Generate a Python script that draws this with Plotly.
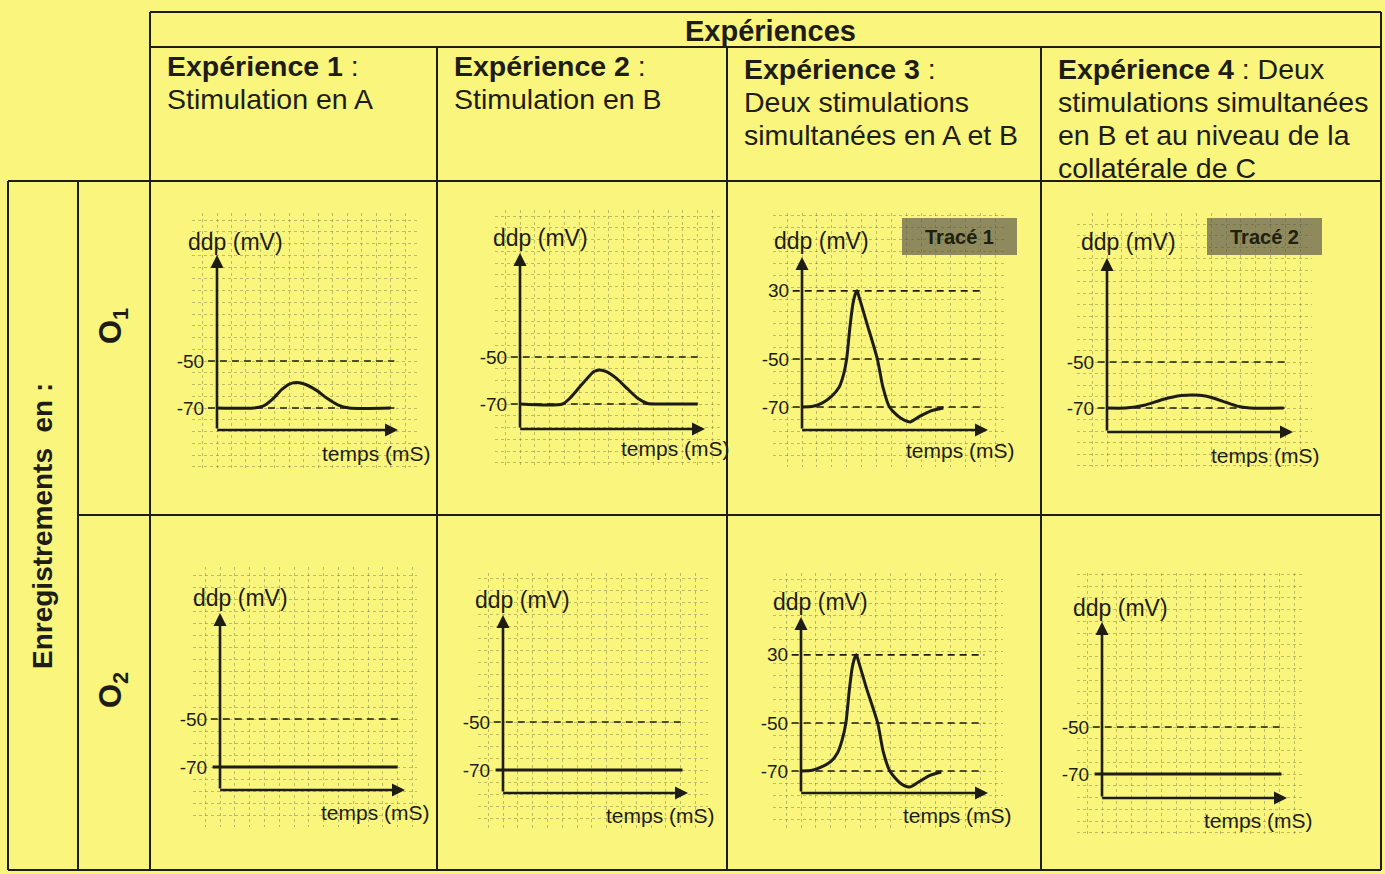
import plotly.graph_objects as go

W, H = 1385, 874
BG = "#f9f57d"
INK = "#1d1d15"
GRID = "rgba(85,85,60,0.36)"
FONT = "Liberation Sans, Arial, Helvetica, sans-serif"

# ---------------- data ----------------
main_title = "Expériences"
exp_titles = ["Expérience 1", "Expérience 2", "Expérience 3", "Expérience 4"]
exp_lines = [
    [" :", "Stimulation en A"],
    [" :", "Stimulation en B"],
    [" :", "Deux stimulations", "simultanées en A et B"],
    [" : Deux", "stimulations simultanées", "en B et au niveau de la", "collatérale de C"],
]
row_title = "Enregistrements  en :"
row_labels = ["O<sub>1</sub>", "O<sub>2</sub>"]
y_label = "ddp (mV)"
x_label = "temps (mS)"
trace_tags = {(0, 2): "Tracé 1", (0, 3): "Tracé 2"}

# time in arbitrary units (axis arrow = 10), potential in mV
o1_e1_t = [0, 2.0, 2.6, 3.1, 3.6, 4.0, 4.4, 4.9, 5.5, 6.1, 6.7, 7.3, 9.6]
o1_e1_v = [-70, -70, -69, -66, -62, -59.8, -59.2, -60, -62.5, -66, -68.8, -70, -70]

o1_e2_t = [0, 2.3, 2.7, 3.2, 3.7, 4.0, 4.3, 4.7, 5.2, 5.8, 6.4, 6.9, 7.4, 9.6]
o1_e2_v = [-70, -70, -67.5, -63, -58.5, -56.2, -55.5, -56.3, -59, -63.5, -67.8, -69.8, -70, -70]

o1_e3_t = [0, 0.6, 1.1, 1.6, 2.0, 2.25, 2.4, 2.58, 2.74, 2.88, 2.96, 3.08, 3.5, 4.05, 4.35, 4.7, 5.3, 5.8, 6.3, 6.9, 7.6]
o1_e3_v = [-70, -69.7, -68.3, -65.5, -61.7, -56, -50, -12, 15, 27, 30, 22, -9, -50, -61.7, -70, -74.6, -76.2, -74, -71.7, -70.4]

o1_e4_t = [0, 1.0, 2.0, 3.0, 4.0, 4.6, 5.3, 6.2, 7.0, 7.7, 9.5]
o1_e4_v = [-70, -70, -68.8, -66.3, -64.6, -64.3, -64.8, -67, -69.2, -70, -70]

o2_e1_t = [-0.4, 9.6]
o2_e1_v = [-70, -70]

o2_e2_t = [-0.4, 9.7]
o2_e2_v = [-70, -70]

o2_e3_t = [0, 0.6, 1.1, 1.6, 1.95, 2.2, 2.4, 2.58, 2.74, 2.88, 2.96, 3.08, 3.5, 4.1, 4.4, 4.75, 5.3, 5.8, 6.3, 6.9, 7.5]
o2_e3_v = [-70, -69.7, -68.3, -66, -62.5, -57, -50, -12, 15, 27, 30, 22, -9, -50, -62, -70, -75, -76.7, -74.5, -71.8, -70.4]

o2_e4_t = [-0.4, 9.7]
o2_e4_v = [-70, -70]

levels_low = [-70, -50]
levels_high = [-70, -50, 30]

curves = {
    (0, 0): (o1_e1_t, o1_e1_v), (0, 1): (o1_e2_t, o1_e2_v),
    (0, 2): (o1_e3_t, o1_e3_v), (0, 3): (o1_e4_t, o1_e4_v),
    (1, 0): (o2_e1_t, o2_e1_v), (1, 1): (o2_e2_t, o2_e2_v),
    (1, 2): (o2_e3_t, o2_e3_v), (1, 3): (o2_e4_t, o2_e4_v),
}
levels = {k: (levels_high if k[1] == 2 else levels_low) for k in curves}
dashed = {k: (levels[k] if (k[0] == 0 or k[1] == 2) else [-50]) for k in curves}

# ---------------- layout geometry (pixels) ----------------
GEOM = {
    (0, 0): dict(grid=(192, 213, 417, 468), ax=217, tip_x=398, org=430, tip_y=255, p70=408, p50=361, ddp=(235, 242), temps=(376, 453)),
    (0, 1): dict(grid=(495, 210, 723, 467), ax=520, tip_x=705, org=429, tip_y=253, p70=404, p50=357, ddp=(540, 238), temps=(675, 449)),
    (0, 2): dict(grid=(773, 213, 1007, 467), ax=802, tip_x=988, org=430, tip_y=257, p70=407, p50=359, ddp=(821, 241), temps=(960, 451)),
    (0, 3): dict(grid=(1077, 213, 1312, 467), ax=1107, tip_x=1293, org=432, tip_y=258, p70=408, p50=362, ddp=(1128, 242), temps=(1265, 455)),
    (1, 0): dict(grid=(193, 567, 417, 827), ax=220, tip_x=405, org=790, tip_y=613, p70=767, p50=719, ddp=(240, 598), temps=(375, 812)),
    (1, 1): dict(grid=(478, 573, 708, 828), ax=503, tip_x=688, org=793, tip_y=615, p70=770, p50=722, ddp=(522, 600), temps=(660, 815)),
    (1, 2): dict(grid=(773, 573, 1003, 830), ax=801, tip_x=988, org=793, tip_y=617, p70=771, p50=723, ddp=(820, 602), temps=(958, 815)),
    (1, 3): dict(grid=(1077, 573, 1305, 835), ax=1102, tip_x=1287, org=798, tip_y=622, p70=774, p50=727, ddp=(1120, 608), temps=(1258, 820)),
}
TAG_BOX = {(0, 2): (902, 218, 1017, 255), (0, 3): (1207, 218, 1322, 255)}

K = 0.355  # schematic compression of the axis above -50 mV


def to_axis(v):
    return v if v <= -50 else -50 + (v + 50) * K


def px(x):
    return x / W


def py(y):
    return 1 - y / H


fig = go.Figure()
shapes = []
annotations = []


def label(text, x, y, size, xanchor="center", angle=0, color=INK):
    annotations.append(dict(text=text, x=px(x), y=py(y), xref="paper", yref="paper",
                            xanchor=xanchor, yanchor="middle", showarrow=False, textangle=angle,
                            font=dict(size=size, color=color)))


# ---- table ----
def hline(x0, x1, y, w=2):
    shapes.append(dict(type="line", xref="paper", yref="paper", x0=px(x0), x1=px(x1),
                       y0=py(y), y1=py(y), line=dict(color=INK, width=w)))


def vline(x, y0, y1, w=2):
    shapes.append(dict(type="line", xref="paper", yref="paper", x0=px(x), x1=px(x),
                       y0=py(y0), y1=py(y1), line=dict(color=INK, width=w)))


RIGHT = 1381
hline(150, RIGHT, 12)
hline(150, RIGHT, 47)
hline(8, RIGHT, 181)
hline(78, RIGHT, 515)
hline(8, RIGHT, 870)
vline(150, 12, 870)
vline(RIGHT, 12, 870)
for xv in (437, 727, 1041):
    vline(xv, 47, 870)
vline(8, 181, 870)
vline(78, 181, 870)

label("<b>" + main_title + "</b>", 770, 31, 29)
head_x = [165, 452, 742, 1056]
head_y0 = [66, 66, 69, 69]
for i in range(4):
    for j, line in enumerate(exp_lines[i]):
        txt = ("<b>" + exp_titles[i] + "</b>" + line) if j == 0 else line
        label(txt, head_x[i], head_y0[i] + 33.0 * j, 28.5, xanchor="left")

label("<b>" + row_title + "</b>", 42, 526, 28, angle=-90)
for r, yc in enumerate((326, 690)):
    label("<b>" + row_labels[r] + "</b>", 113, yc, 31, angle=-90)

# ---- panels ----
n = 0
for key in sorted(GEOM):
    n += 1
    g = GEOM[key]
    xa = "x" if n == 1 else f"x{n}"
    ya = "y" if n == 1 else f"y{n}"
    sx = (g["tip_x"] - g["ax"]) / 10.0
    sy = (g["p70"] - g["p50"]) / 20.0

    def pu(p, g=g, sy=sy):
        return -70 + (g["p70"] - p) / sy

    gx0, gy0, gx1, gy1 = g["grid"]
    xr = [(gx0 - g["ax"]) / sx, (gx1 - g["ax"]) / sx]
    yr = [pu(gy1), pu(gy0)]
    u_org = pu(g["org"])
    u_top = pu(g["tip_y"])

    fig.layout["xaxis" + ("" if n == 1 else str(n))] = dict(
        domain=[px(gx0), px(gx1)], range=xr, anchor=ya, showticklabels=False, ticks="",
        showgrid=False, zeroline=False, showline=False, tickmode="array", tickvals=[],
        minor=dict(tickmode="linear", tick0=0, dtick=0.8, showgrid=True, gridcolor=GRID,
                   griddash="dot", gridwidth=1, ticks=""))
    lv = levels[key]
    fig.layout["yaxis" + ("" if n == 1 else str(n))] = dict(
        domain=[py(gy1), py(gy0)], range=yr, anchor="free", position=px(g["ax"]),
        tickmode="array", tickvals=[to_axis(v) for v in lv], ticktext=[str(v) for v in lv],
        ticks="outside", ticklen=9, tickcolor="rgba(0,0,0,0)", showgrid=False, zeroline=False,
        showline=False, tickfont=dict(size=19, color=INK),
        minor=dict(tickmode="linear", tick0=-70, dtick=5, showgrid=True, gridcolor=GRID,
                   griddash="dot", gridwidth=1, ticks=""))

    # dashed reference levels
    for v in dashed[key]:
        shapes.append(dict(type="line", xref=xa, yref=ya, x0=-0.5, x1=9.8, y0=to_axis(v), y1=to_axis(v),
                           line=dict(color=INK, width=1.6, dash="7px,5px")))

    # recording curve
    t, v = curves[key]
    fig.add_trace(go.Scatter(x=t, y=[to_axis(a) for a in v], xaxis=xa, yaxis=ya, mode="lines",
                             line=dict(color=INK, width=3, shape="spline", smoothing=0.7),
                             hoverinfo="skip", showlegend=False))

    # axes with arrows
    annotations.append(dict(x=0, y=u_top, ax=0, ay=u_org, xref=xa, yref=ya, axref=xa, ayref=ya,
                            text="", showarrow=True, arrowhead=2, arrowsize=1.0, arrowwidth=2.6,
                            arrowcolor=INK, standoff=0, startstandoff=0))
    annotations.append(dict(x=10, y=u_org, ax=-0.07, ay=u_org, xref=xa, yref=ya, axref=xa, ayref=ya,
                            text="", showarrow=True, arrowhead=2, arrowsize=1.0, arrowwidth=2.6,
                            arrowcolor=INK, standoff=0, startstandoff=0))

    label(y_label, g["ddp"][0], g["ddp"][1], 23)
    label(x_label, g["temps"][0], g["temps"][1], 21)

    if key in trace_tags:
        bx0, by0, bx1, by1 = TAG_BOX[key]
        shapes.append(dict(type="rect", xref="paper", yref="paper", x0=px(bx0), x1=px(bx1), y0=py(by1), y1=py(by0),
                           fillcolor="#8e8a5e", line=dict(width=0), layer="below"))
        label("<b>" + trace_tags[key] + "</b>", (bx0 + bx1) / 2, (by0 + by1) / 2, 20, color="#20200f")

fig.update_layout(
    width=W, height=H, margin=dict(l=0, r=0, t=0, b=0),
    paper_bgcolor=BG, plot_bgcolor="rgba(0,0,0,0)",
    font=dict(family=FONT, color=INK),
    shapes=shapes, annotations=annotations, showlegend=False,
)

fig.write_html("out.html", include_plotlyjs=True, config={"displayModeBar": False},
               post_script="document.body.style.margin='0';document.body.style.overflow='hidden';")
